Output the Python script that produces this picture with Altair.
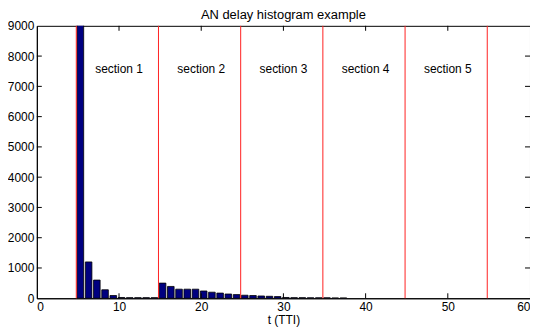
import altair as alt
import pandas as pd

# ---- data ----
bin_centers = [5.3, 6.3, 7.3, 8.3, 9.3, 10.3, 11.3, 12.3, 13.3, 14.3,
               15.3, 16.3, 17.3, 18.3, 19.3, 20.3, 21.3, 22.3, 23.3, 24.3,
               25.3, 26.3, 27.3, 28.3, 29.3, 30.3, 31.3, 32.3, 33.3, 34.3,
               35.3, 36.3, 37.3]
counts = [12000, 1200, 600, 280, 90, 25, 20, 20, 20, 20,
          500, 390, 300, 300, 300, 240, 200, 170, 140, 120,
          100, 90, 75, 65, 55, 25, 20, 20, 15, 15,
          15, 10, 10]
section_bounds = [4.8, 14.8, 24.8, 34.8, 44.8, 54.8]
section_label_pos = [10, 20, 30, 40, 50]
section_labels = ["section 1", "section 2", "section 3", "section 4", "section 5"]
x_ticks = [0, 10, 20, 30, 40, 50, 60]
y_ticks = [0, 1000, 2000, 3000, 4000, 5000, 6000, 7000, 8000, 9000]

FONT = "Liberation Sans"
W, H = 496, 274
TICK = 5
XTITLE = "t (TTI)"

x_scale = alt.Scale(domain=[0, 60], nice=False, zero=False)
y_scale = alt.Scale(domain=[0, 9000], nice=False, zero=True)


def xax():
    return alt.Axis(values=x_ticks, tickSize=0, labelPadding=3, title=XTITLE,
                    titlePadding=2, titleFontWeight="normal", titleFontSize=12,
                    titleFont=FONT, format="d")


def yax():
    return alt.Axis(values=y_ticks, tickSize=0, labelPadding=3, title=None, format="d")


bars_df = pd.DataFrame({"t": bin_centers, "n": counts})
bars = (
    alt.Chart(bars_df)
    .transform_calculate(t0="datum.t - 0.4", t1="datum.t + 0.4")
    .mark_bar(color="#000080", stroke="black", strokeWidth=0.8, clip=True)
    .encode(
        x=alt.X("t0:Q", scale=x_scale, axis=xax(), title=XTITLE),
        x2="t1:Q",
        y=alt.Y("n:Q", scale=y_scale, axis=yax(), title=None),
        y2=alt.datum(0),
    )
)

bounds_df = pd.DataFrame({"b": section_bounds})
lines = alt.Chart(bounds_df).mark_rule(color="#ff2020", strokeWidth=1).encode(
    x=alt.X("b:Q", scale=x_scale, axis=xax(), title=XTITLE)
)

labels_df = pd.DataFrame({"p": section_label_pos, "label": section_labels})
texts = alt.Chart(labels_df).mark_text(font=FONT, fontSize=12, color="black").encode(
    x=alt.X("p:Q", scale=x_scale, axis=xax(), title=XTITLE),
    y=alt.value(43),
    text="label:N",
)

xt_df = pd.DataFrame({"v": x_ticks[1:-1]})
yt_df = pd.DataFrame({"v": y_ticks[1:-1]})
xt_bottom = alt.Chart(xt_df).mark_rule(color="black").encode(
    x=alt.X("v:Q", scale=x_scale, axis=xax(), title=XTITLE),
    y=alt.value(H), y2=alt.value(H - TICK))
xt_top = alt.Chart(xt_df).mark_rule(color="black").encode(
    x=alt.X("v:Q", scale=x_scale, axis=xax(), title=XTITLE),
    y=alt.value(0), y2=alt.value(TICK))
yt_left = alt.Chart(yt_df).mark_rule(color="black").encode(
    y=alt.Y("v:Q", scale=y_scale, axis=yax(), title=None),
    x=alt.value(0), x2=alt.value(TICK))
yt_right = alt.Chart(yt_df).mark_rule(color="black").encode(
    y=alt.Y("v:Q", scale=y_scale, axis=yax(), title=None),
    x=alt.value(W), x2=alt.value(W - TICK))

chart = (
    alt.layer(bars, lines, texts, xt_bottom, xt_top, yt_left, yt_right)
    .properties(
        width=W,
        height=H,
        autosize="none",
        padding={"left": 29, "top": 17, "right": 0, "bottom": 30},
        title=alt.TitleParams("AN delay histogram example", font=FONT, fontSize=13,
                              fontWeight="normal", color="black", offset=-2),
    )
    .configure_view(stroke="black", strokeWidth=1)
    .configure_axis(grid=False, domainColor="black", domainWidth=1,
                    labelFont=FONT, labelFontSize=12, labelColor="black",
                    titleColor="black")
)

chart.save("out.html", embed_options={"renderer": "svg", "actions": False})
